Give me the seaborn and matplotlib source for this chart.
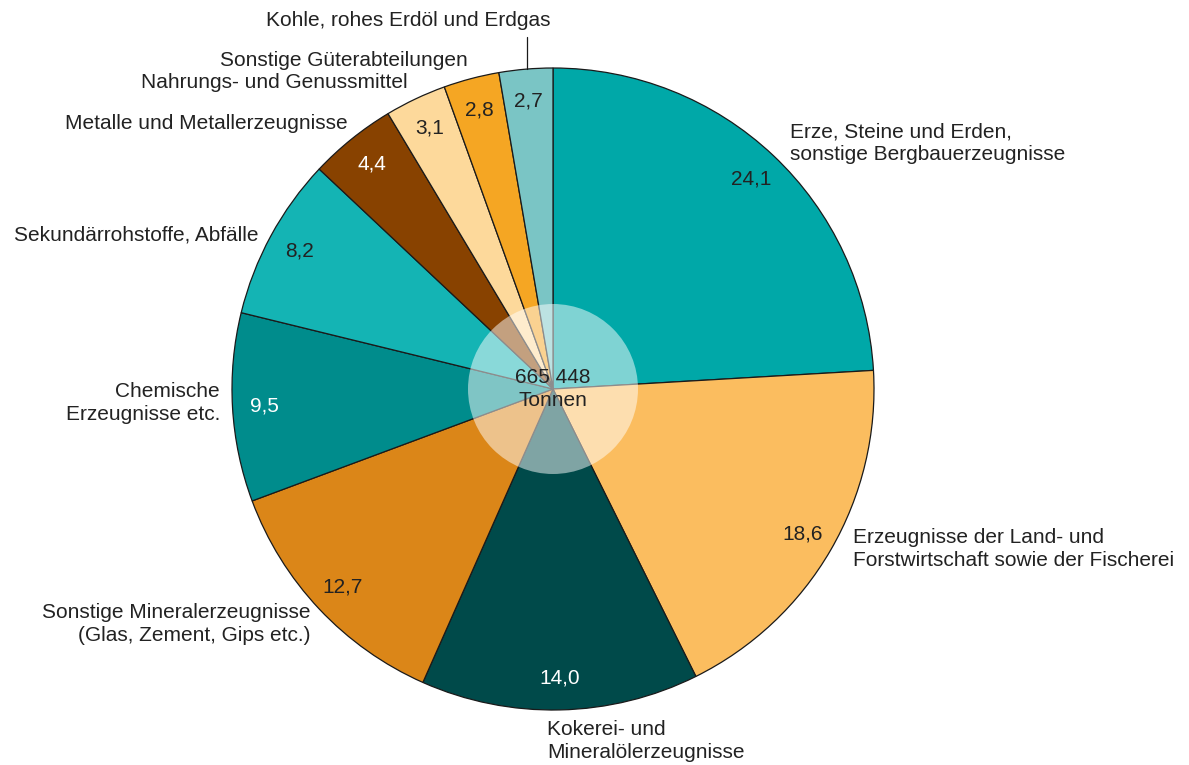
import matplotlib.pyplot as plt
import seaborn as sns
from matplotlib.patches import Circle

sns.set_theme(style="white")
plt.rcParams['font.family'] = ['Liberation Sans', 'DejaVu Sans']

# Güterabteilungen, im Uhrzeigersinn ab 12 Uhr
categories = ["Erze, Steine und Erden,\nsonstige Bergbauerzeugnisse",
              "Erzeugnisse der Land- und\nForstwirtschaft sowie der Fischerei",
              "Kokerei- und\nMineralölerzeugnisse",
              "Sonstige Mineralerzeugnisse\n(Glas, Zement, Gips etc.)",
              "Chemische\nErzeugnisse etc.",
              "Sekundärrohstoffe, Abfälle",
              "Metalle und Metallerzeugnisse",
              "Nahrungs- und Genussmittel",
              "Sonstige Güterabteilungen",
              "Kohle, rohes Erdöl und Erdgas"]
shares = [24.1, 18.6, 14.0, 12.7, 9.5, 8.2, 4.4, 3.1, 2.8, 2.7]
total_label = "665 448\nTonnen"

colors = ["#00A8A8", "#FBBD5F", "#004A4A", "#DB8618", "#008C8C",
          "#14B4B4", "#884200", "#FDD99B", "#F5A623", "#7AC5C5"]
value_colors = ["#222222", "#222222", "white", "#222222", "white",
                "#222222", "white", "#222222", "#222222", "#222222"]

# label positions in pixels (x, y from top) and alignment
label_pos = [(790, 143, "left"), (853, 549, "left"), (547, 741, "left"),
             (310, 624, "right"), (220, 403, "right"), (259, 235, "right"),
             (348, 123, "right"), (408, 82, "right"), (468, 60, "right"),
             (408, 20, "center")]

W, H = 1189, 765
cx, cy, R = 553, H - 389, 321
fs = 15

fig = plt.figure(figsize=(W / 100, H / 100), dpi=100)
ax = fig.add_axes([0, 0, 1, 1])

value_txt = [f"{v:.1f}".replace(".", ",") for v in shares]
wedges, texts = ax.pie(shares, colors=colors, labels=value_txt,
                       labeldistance=0.9, startangle=90, counterclock=False,
                       center=(cx, cy), radius=R,
                       wedgeprops=dict(edgecolor="#1a1a1a", linewidth=0.9),
                       textprops=dict(fontsize=fs))
for t, c in zip(texts, value_colors):
    t.set_color(c)
    t.set_ha("center")
    t.set_va("center")

ax.add_patch(Circle((cx, cy), 85, facecolor="white", alpha=0.5, edgecolor="none", zorder=3))
ax.text(cx, cy, total_label, ha="center", va="center", fontsize=fs,
        color="#222222", linespacing=1.25, zorder=4)

for name, (x, y, ha) in zip(categories, label_pos):
    ax.text(x, H - y, name, ha=ha, va="center", fontsize=fs,
            color="#222222", linespacing=1.25, multialignment=ha)

# Hinweislinie für Kohle
ax.plot([527, 527], [H - 37, H - 69], color="#1a1a1a", linewidth=0.9)

ax.set_xlim(0, W)
ax.set_ylim(0, H)
ax.set_aspect("equal")
ax.axis("off")

fig.savefig("out.png", dpi=100, facecolor="white")
